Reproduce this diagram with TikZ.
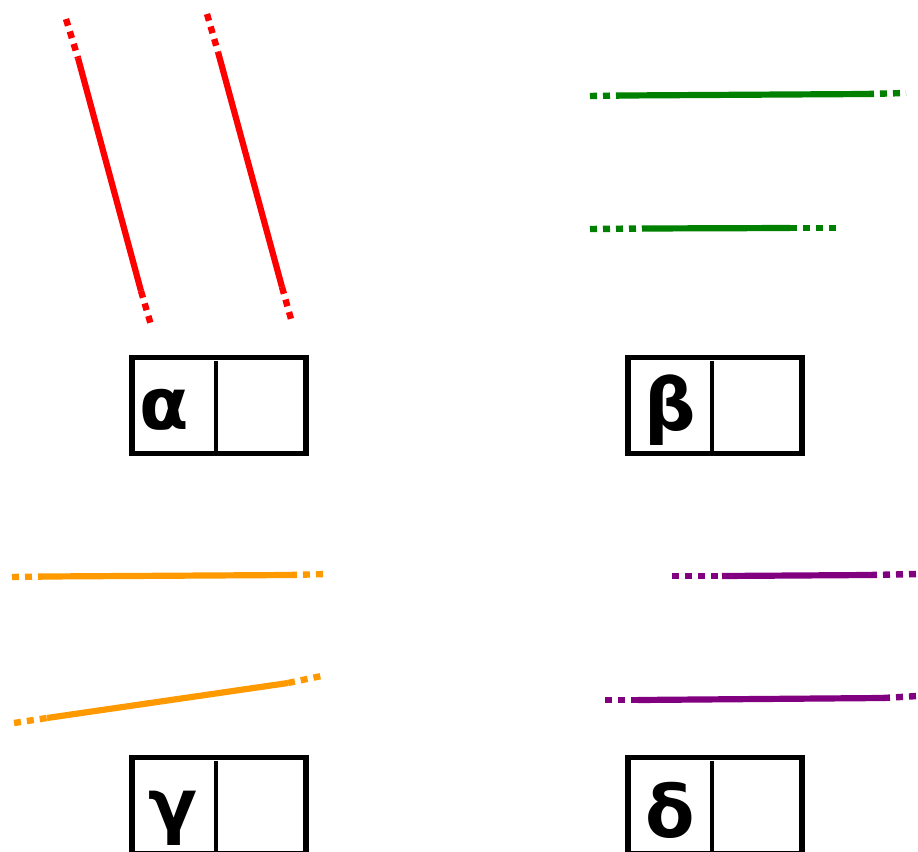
\documentclass[tikz,border=0pt]{standalone}
\usepackage{fontspec}
\setsansfont{DejaVu Sans}
\usetikzlibrary{calc}
\definecolor{vert}{RGB}{0,128,0}
\definecolor{orangeclair}{RGB}{255,153,0}
\definecolor{violet}{RGB}{128,0,128}

\tikzset{
	plein/.style={line width=3.1pt},
	pointille/.style={line width=3.2pt,dash pattern=on 3.5pt off 3pt},
	boite/.style={draw,line width=2.6pt,minimum width=87pt,minimum height=48pt,inner sep=0pt},
	lettre/.style={inner sep=0pt,font=\sffamily\bfseries\fontsize{36}{36}\selectfont}
}

\begin{document}
\begin{tikzpicture}[x=0.5pt,y=-0.5pt]
				\useasboundingbox (0,0) rectangle (918,852);
				% Segments
				\coordinate (r1a) at (66,19);   \coordinate (r1b) at (78,58);
				\coordinate (r1c) at (141,291); \coordinate (r1d) at (151,325);
				\coordinate (r2a) at (207,14);  \coordinate (r2b) at (218,52);
				\coordinate (r2c) at (282,287); \coordinate (r2d) at (291,319);
				\coordinate (v1a) at (590,96);  \coordinate (v1b) at (622,95.5);
				\coordinate (v1c) at (867,94);  \coordinate (v1d) at (906,93);
				\coordinate (v2a) at (590,229); \coordinate (v2b) at (642,228.5);
				\coordinate (v2c) at (790,228); \coordinate (v2d) at (838,228);
				\coordinate (o1a) at (12,577);  \coordinate (o1b) at (45,576.5);
				\coordinate (o1c) at (290,575); \coordinate (o1d) at (327,574);
				\coordinate (o2a) at (14,723);  \coordinate (o2b) at (47,718);
				\coordinate (o2c) at (288,683); \coordinate (o2d) at (326,675);
				\coordinate (p1a) at (672,576); \coordinate (p1b) at (722,576);
				\coordinate (p1c) at (870,575); \coordinate (p1d) at (918,574);
				\coordinate (p2a) at (605,700); \coordinate (p2b) at (638,700);
				\coordinate (p2c) at (883,698); \coordinate (p2d) at (918,696);
				\foreach \s/\c in {r1/red,r2/red,v1/vert,v2/vert,o1/orangeclair,o2/orangeclair,p1/violet,p2/violet}{
					\draw [pointille,\c] (\s a) -- (\s b);
					\draw [plein,\c] (\s b) -- (\s c);
					\draw [pointille,\c] (\s c) -- (\s d);
				}
				% Boîtes
				\node [boite] (boiteA) at (219,405.5) {};
				\node [boite] (boiteB) at (715,405.5) {};
				\node [boite] (boiteG) at (219,805.5) {};
				\node [boite] (boiteD) at (715,805.5) {};
				\foreach \b in {boiteA,boiteB,boiteG,boiteD}
					\draw [line width=2.4pt] ($(\b.north)+(-3,6)$) -- ($(\b.south)+(-3,0)$);
				\node [lettre] (alpha) at (164.5,410) {α};
				\node [lettre] (beta) at (670,410.5) {β};
				\node [lettre] (gamma) at (173,818) {γ};
				\node [lettre] (delta) at (670,810.5) {δ};
\end{tikzpicture}
\end{document}
